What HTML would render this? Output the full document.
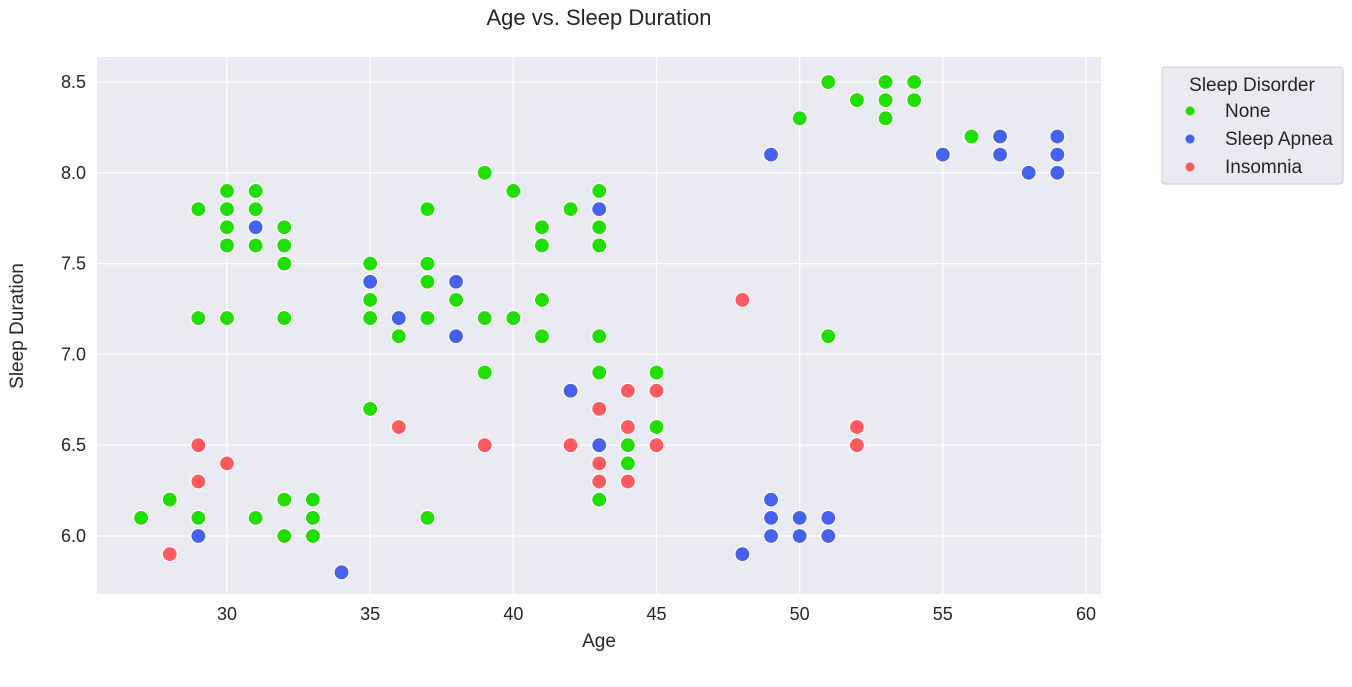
<!DOCTYPE html>
<html><head><meta charset="utf-8"><style>
body{margin:0;background:#fff;font-family:"Liberation Sans","DejaVu Sans",sans-serif}
svg text{font-family:"Liberation Sans","DejaVu Sans",sans-serif;fill:#262626}
</style></head><body>
<svg id="chart" width="1352" height="682" xmlns="http://www.w3.org/2000/svg">
<rect x="97" y="57" width="1004" height="537" fill="#eaeaf2"/>
<g id="grid"></g>
<g id="points"></g>
<text x="599" y="25" font-size="22" text-anchor="middle">Age vs. Sleep Duration</text>
<text x="599" y="647" font-size="19" text-anchor="middle">Age</text>
<text x="23" y="326" font-size="19" text-anchor="middle" transform="rotate(-90 23 326)">Sleep Duration</text>
<g>
<rect x="1162" y="67" width="181" height="117" rx="3" fill="#eaeaf2" stroke="#cccccc"/>
<text x="1252" y="91" font-size="19" text-anchor="middle">Sleep Disorder</text>
<circle cx="1190" cy="111" r="4.5" fill="#22dd00"/>
<text x="1225" y="117" font-size="19">None</text>
<circle cx="1190" cy="139" r="4.5" fill="#4561ee"/>
<text x="1225" y="145" font-size="19">Sleep Apnea</text>
<circle cx="1190" cy="167" r="4.5" fill="#ff5a5f"/>
<text x="1225" y="173" font-size="19">Insomnia</text>
</g>
</svg>
<script>
const xTicks=[30,35,40,45,50,55,60];
const yTicks=[6.0,6.5,7.0,7.5,8.0,8.5];
const noneAge=[27,28,29,29,29,30,30,30,30,30,31,31,31,31,32,32,32,32,32,32,33,33,33,35,35,35,35,36,37,37,37,37,37,38,39,39,39,40,40,41,41,41,41,42,43,43,43,43,43,43,44,44,45,45,50,51,51,52,53,53,53,54,54,56];
const noneSleep=[6.1,6.2,7.8,7.2,6.1,7.9,7.8,7.7,7.6,7.2,7.9,7.8,7.6,6.1,7.7,7.6,7.5,7.2,6.2,6.0,6.2,6.1,6.0,7.5,7.3,7.2,6.7,7.1,7.8,7.5,7.4,7.2,6.1,7.3,8.0,7.2,6.9,7.9,7.2,7.7,7.6,7.3,7.1,7.8,7.9,7.7,7.6,7.1,6.9,6.2,6.5,6.4,6.9,6.6,8.3,8.5,7.1,8.4,8.5,8.4,8.3,8.5,8.4,8.2];
const apneaAge=[29,31,34,35,36,38,38,42,43,43,48,49,49,49,49,50,50,51,51,55,57,57,58,59,59,59];
const apneaSleep=[6.0,7.7,5.8,7.4,7.2,7.4,7.1,6.8,7.8,6.5,5.9,8.1,6.2,6.1,6.0,6.1,6.0,6.1,6.0,8.1,8.2,8.1,8.0,8.2,8.1,8.0];
const insomniaAge=[28,29,29,30,36,39,42,43,43,43,44,44,44,45,45,48,52,52];
const insomniaSleep=[5.9,6.5,6.3,6.4,6.6,6.5,6.5,6.7,6.4,6.3,6.8,6.6,6.3,6.8,6.5,7.3,6.6,6.5];

const NS="http://www.w3.org/2000/svg";
const X=v=>227+(v-30)*28.633;
const Y=v=>82+(8.5-v)*181.6;
const grid=document.getElementById('grid'), pts=document.getElementById('points');
function mk(tag,attrs,parent){const e=document.createElementNS(NS,tag);for(const k in attrs)e.setAttribute(k,attrs[k]);parent.appendChild(e);return e;}
xTicks.forEach(t=>{
  const l=mk('line',{x1:X(t),x2:X(t),y1:57,y2:594,stroke:'#fff','stroke-width':1.3},grid);
  
  
  const tx=mk('text',{x:X(t),y:620,'font-size':18,'text-anchor':'middle'},grid);
  
  
  tx.textContent=t;
});
yTicks.forEach(t=>{
  const l=mk('line',{x1:97,x2:1101,y1:Y(t),y2:Y(t),stroke:'#fff','stroke-width':1.3},grid);
  
  
  const tx=mk('text',{x:86,y:Y(t)+6,'font-size':18,'text-anchor':'end'},grid);
  
  
  tx.textContent=t.toFixed(1);
});
function series(ax,ay,color,name){
  ax.forEach((a,i)=>{
    const c=mk('circle',{cx:X(a),cy:Y(ay[i]),r:7.5,fill:color,stroke:'#fff','stroke-width':1.2},pts);
    
    
  });
}
series(noneAge,noneSleep,'#22dd00','point-none');
series(apneaAge,apneaSleep,'#4561ee','point-sleep-apnea');
series(insomniaAge,insomniaSleep,'#ff5a5f','point-insomnia');
</script>
</body></html>
